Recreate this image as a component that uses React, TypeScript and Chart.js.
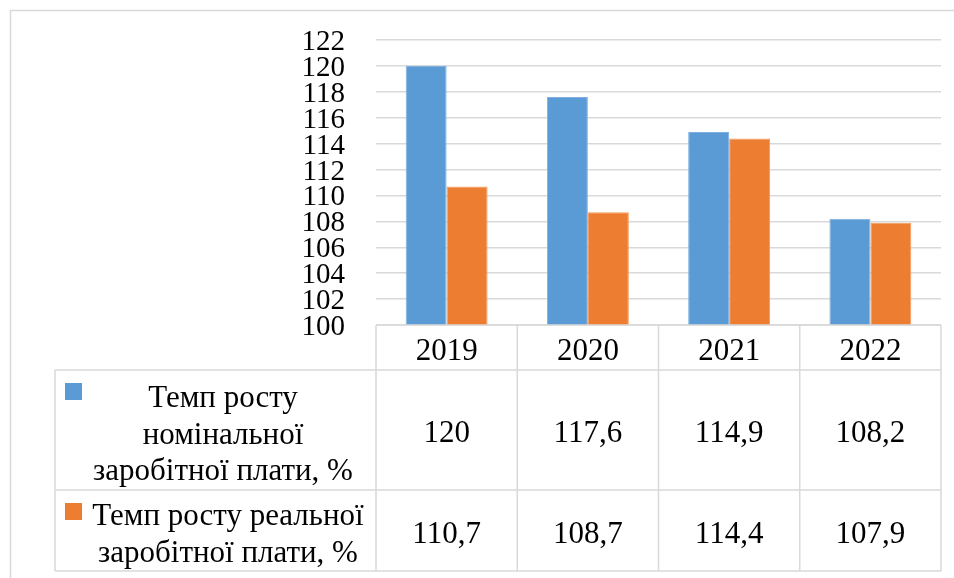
import React, { useEffect, useRef, useState } from "react";
import { Chart, registerables } from "chart.js";

Chart.register(...registerables);

const categories = ["2019", "2020", "2021", "2022"];
const nominalValues = [120, 117.6, 114.9, 108.2];
const realValues = [110.7, 108.7, 114.4, 107.9];
const nominalLabel = ["Темп росту", "номінальної", "заробітної плати, %"];
const realLabel = ["Темп росту реальної", "заробітної плати, %"];
const yMin = 100;
const yMax = 122;
const yStep = 2;

const BLUE = "#5b9bd5";
const ORANGE = "#ed7d31";
const GRID = "#d9d9d9";
const FONT = "\"Liberation Serif\", \"Times New Roman\", serif";

const HEAD_BOTTOM = 370;
const ROW1_BOTTOM = 490;
const ROW2_BOTTOM = 571;
const TABLE_LEFT = 55;

const fmt = (v: number) => String(v).replace(".", ",");

const tablePlugin = {
  id: "dataTable",
  afterDraw(chart: any) {
    const ctx = chart.ctx as CanvasRenderingContext2D;
    const area = chart.chartArea;
    const xs = chart.scales.x;
    const n = categories.length;
    const cw = (area.right - area.left) / n;
    const top = area.bottom;

    ctx.save();
    ctx.strokeStyle = GRID;
    ctx.lineWidth = 1.5;
    ctx.strokeRect(10.5, 10.5, 960, 600);

    ctx.beginPath();
    ctx.moveTo(area.left, top);
    ctx.lineTo(area.right, top);
    for (const y of [HEAD_BOTTOM, ROW1_BOTTOM, ROW2_BOTTOM]) {
      ctx.moveTo(TABLE_LEFT, y);
      ctx.lineTo(area.right, y);
    }
    ctx.moveTo(TABLE_LEFT, HEAD_BOTTOM);
    ctx.lineTo(TABLE_LEFT, ROW2_BOTTOM);
    for (let i = 0; i <= n; i++) {
      const xb = i < n ? xs.getPixelForValue(i) - cw / 2 : xs.getPixelForValue(n - 1) + cw / 2;
      ctx.moveTo(xb, top);
      ctx.lineTo(xb, ROW2_BOTTOM);
    }
    ctx.stroke();

    ctx.fillStyle = BLUE;
    ctx.fillRect(65, 383, 17, 17);
    ctx.fillStyle = ORANGE;
    ctx.fillRect(65, 503, 17, 17);
    ctx.restore();
  },
};

type Layout = {
  cols: number[];
  ticks: { label: string; y: number }[];
  left: number;
  bottom: number;
};

const textBase: React.CSSProperties = {
  position: "absolute",
  fontFamily: FONT,
  color: "#000",
  lineHeight: 1,
  whiteSpace: "nowrap",
};

function Centered({ x, y, size, children }: { x: number; y: number; size: number; children: React.ReactNode }) {
  return (
    <div style={{ ...textBase, left: x, top: y, fontSize: size, transform: "translate(-50%, -50%)" }}>
      {children}
    </div>
  );
}

export default function App() {
  const ref = useRef<HTMLCanvasElement>(null);
  const [lay, setLay] = useState<Layout | null>(null);

  useEffect(() => {
    if (!ref.current) return;
    const chart = new Chart(ref.current, {
      type: "bar",
      data: {
        labels: categories,
        datasets: [
          {
            label: nominalLabel.join(" "),
            data: nominalValues,
            backgroundColor: BLUE,
            borderColor: "#7fb1e0",
            borderWidth: 1,
            categoryPercentage: 0.58,
            barPercentage: 1,
          },
          {
            label: realLabel.join(" "),
            data: realValues,
            backgroundColor: ORANGE,
            borderColor: "#f29a5c",
            borderWidth: 1,
            categoryPercentage: 0.58,
            barPercentage: 1,
          },
        ],
      },
      options: {
        responsive: false,
        animation: false,
        layout: { autoPadding: false, padding: { left: 0, right: 13, top: 40, bottom: 253 } },
        plugins: { legend: { display: false }, tooltip: { enabled: false } },
        scales: {
          x: { display: false },
          y: {
            min: yMin,
            max: yMax,
            border: { display: false },
            grid: { color: GRID, lineWidth: 1.5, drawTicks: false },
            ticks: { stepSize: yStep, autoSkip: false, display: false },
            afterFit: (s: any) => {
              s.width = 376;
            },
          },
        },
      },
      plugins: [tablePlugin],
    });
    const a = chart.chartArea;
    const xs: any = chart.scales.x;
    const ys: any = chart.scales.y;
    setLay({
      cols: categories.map((_, i) => xs.getPixelForValue(i)),
      ticks: ys.ticks.map((t: any) => ({ label: String(t.value), y: ys.getPixelForValue(t.value) })),
      left: a.left,
      bottom: a.bottom,
    });
    return () => chart.destroy();
  }, []);

  return (
    <div style={{ position: "fixed", left: 0, top: 0, width: 954, height: 578, background: "#fff", overflow: "hidden" }}>
      <canvas ref={ref} width={954} height={578} style={{ display: "block", position: "absolute", left: 0, top: 0 }} />
      {lay && (
        <>
          {lay.ticks.map((t) => (
            <div
              key={t.label}
              style={{
                ...textBase,
                fontSize: 29,
                right: 954 - (lay.left - 31),
                top: t.y,
                transform: "translateY(-50%)",
                textAlign: "right",
              }}
            >
              {t.label}
            </div>
          ))}
          {categories.map((c, i) => (
            <React.Fragment key={c}>
              <Centered x={lay.cols[i]} y={(lay.bottom + HEAD_BOTTOM) / 2 + 1} size={31}>
                {c}
              </Centered>
              <Centered x={lay.cols[i]} y={(HEAD_BOTTOM + ROW1_BOTTOM) / 2 + 1} size={31}>
                {fmt(nominalValues[i])}
              </Centered>
              <Centered x={lay.cols[i]} y={(ROW1_BOTTOM + ROW2_BOTTOM) / 2 + 1} size={31}>
                {fmt(realValues[i])}
              </Centered>
            </React.Fragment>
          ))}
          {nominalLabel.map((t, i) => (
            <Centered key={"n" + i} x={223} y={[395, 432, 468][i] + 1} size={31}>
              {t}
            </Centered>
          ))}
          {realLabel.map((t, i) => (
            <Centered key={"r" + i} x={228} y={[513, 550][i] + 1} size={31}>
              {t}
            </Centered>
          ))}
        </>
      )}
    </div>
  );
}
